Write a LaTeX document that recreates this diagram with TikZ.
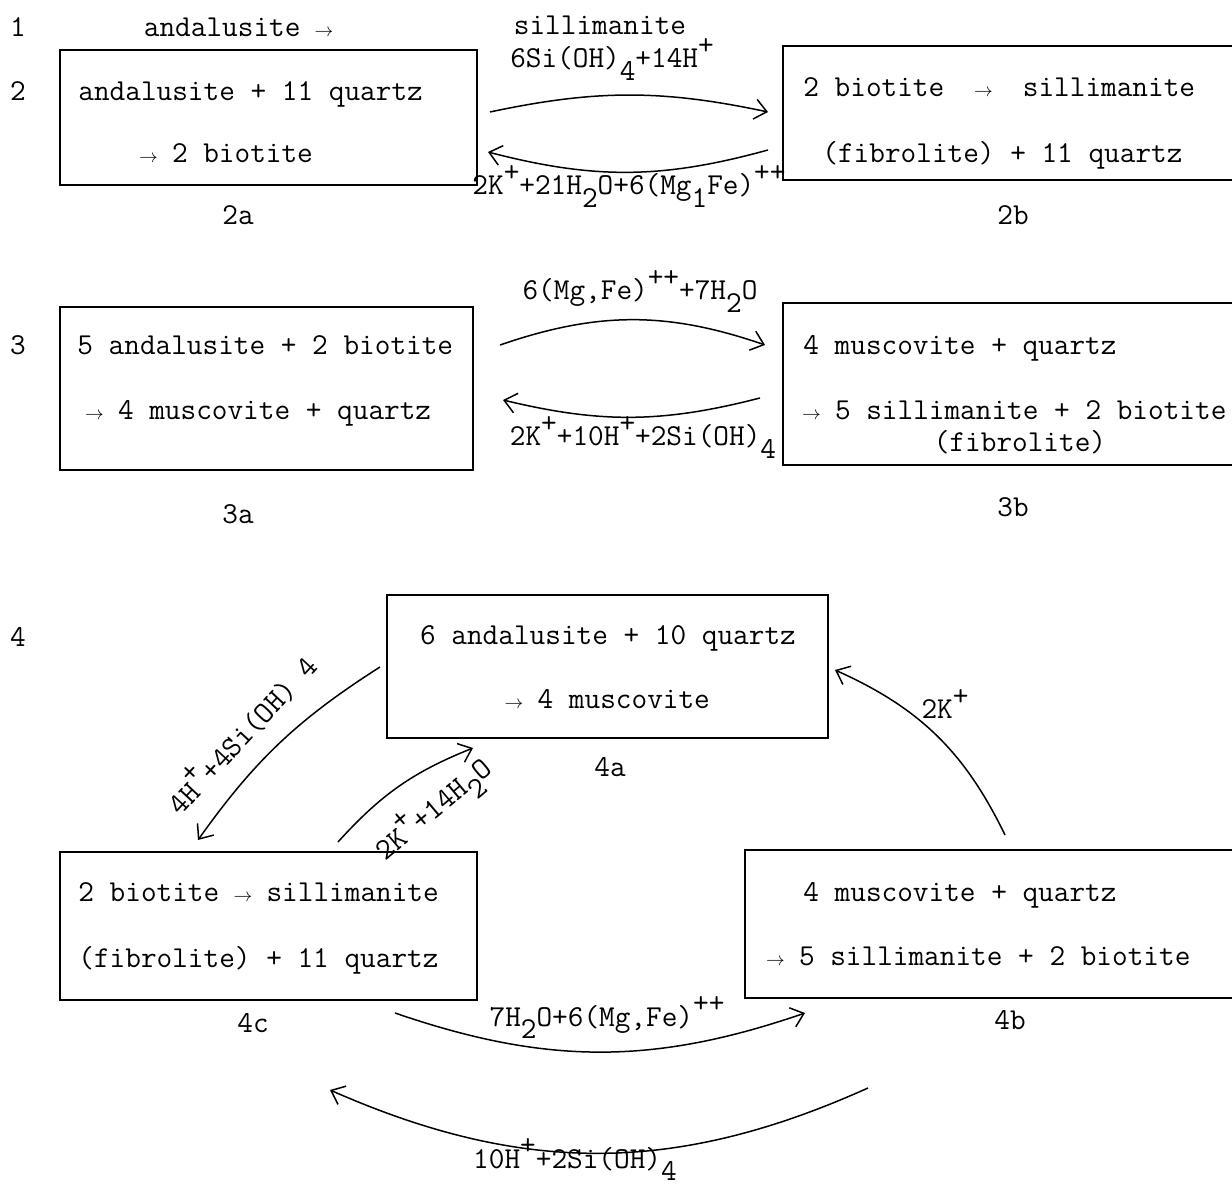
\documentclass[tikz,border=0pt]{standalone}
\usepackage{graphicx}
\usepackage{tikz}
\usetikzlibrary{fit,arrows.meta}
\tikzstyle{diagram} = [x = .5pt, y = -.5pt]
\tikzstyle{boxStyle} = [draw=black, line width=1pt, inner sep=0pt]
\tikzstyle{typeText} = [font=\fontsize{15.2}{18}\selectfont\ttfamily, inner sep=0pt]
\tikzstyle{lineText} = [typeText, anchor=base west]
\tikzstyle{centerText} = [typeText, anchor=base]
\tikzstyle{fluxArrow} = [line width=.75pt, -{Straight Barb[length=6pt,width=10pt]}]
\newcommand{\yields}{\makebox[.525em]{\scalebox{.65}{$\rightarrow$}}}
\newcommand{\hiChar}[1]{\raisebox{.45em}{#1}}
\newcommand{\loChar}[1]{\raisebox{-.4em}{#1}}
\newcommand{\mineralBox}[5]{\node [boxStyle, fit={(#2,#3) (#4,#5)}] (#1) {};}
\newcommand{\boxLine}[4]{\node [lineText] (#1) at (#2,#3) {#4};}
\newcommand{\midText}[4]{\node [centerText] (#1) at (#2,#3) {#4};}

\begin{document}
\begin{tikzpicture}[diagram]
  \path [use as bounding box, clip] (0,0) rectangle (1232,1186);

  % row numbers
  \midText{rowOne}{18}{37}{1}
  \midText{rowTwo}{18}{101}{2}
  \midText{rowThree}{18}{355}{3}
  \midText{rowFour}{18}{647}{4}
  \midText{headA}{238}{37}{andalusite \yields}
  \midText{headB}{600}{35}{sillimanite}

  % row 2
  \mineralBox{box2a}{60}{50}{477}{185}
  \boxLine{t2aOne}{78}{101}{andalusite + 11 quartz}
  \boxLine{t2aTwo}{140}{163}{\yields{} 2 biotite}
  \mineralBox{box2b}{783}{46}{1250}{180}
  \boxLine{t2bOne}{803}{97}{2 biotite\ \ \yields\ \ sillimanite}
  \boxLine{t2bTwo}{822}{163}{(fibrolite) + 11 quartz}
  \midText{case2a}{238}{225}{2a}
  \midText{case2b}{1013}{225}{2b}
  \coordinate (fwd2s) at (490,112);
  \coordinate (fwd2e) at (768,112);
  \coordinate (back2s) at (768,150);
  \coordinate (back2e) at (488,152);
  \draw [fluxArrow] (fwd2s) to [bend left=12] (fwd2e);
  \draw [fluxArrow] (back2s) to [bend left=15] (back2e);
  \midText{flux2fwd}{612}{68}{6Si(OH)\loChar{4}+14H\hiChar{+}}
  \midText{flux2back}{629}{195}{2K\hiChar{+}+21H\loChar{2}O+6(Mg\loChar{1}Fe)\hiChar{++}}

  % row 3
  \mineralBox{box3a}{60}{307}{473}{470}
  \boxLine{t3aOne}{77}{355}{5 andalusite + 2 biotite}
  \boxLine{t3aTwo}{86}{420}{\yields{} 4 muscovite + quartz}
  \mineralBox{box3b}{783}{303}{1250}{465}
  \boxLine{t3bOne}{803}{355}{4 muscovite + quartz}
  \boxLine{t3bTwo}{803}{420}{\yields{} 5 sillimanite + 2 biotite}
  \midText{t3bThree}{1020}{452}{(fibrolite)}
  \midText{case3a}{238}{524}{3a}
  \midText{case3b}{1013}{517}{3b}
  \coordinate (fwd3s) at (500,345);
  \coordinate (fwd3e) at (765,345);
  \coordinate (back3s) at (760,398);
  \coordinate (back3e) at (503,400);
  \draw [fluxArrow] (fwd3s) to [bend left=19] (fwd3e);
  \draw [fluxArrow] (back3s) to [bend left=14] (back3e);
  \midText{flux3fwd}{640}{300}{6(Mg,Fe)\hiChar{++}+7H\loChar{2}O}
  \midText{flux3back}{643}{446}{2K\hiChar{+}+10H\hiChar{+}+2Si(OH)\loChar{4}}

  % row 4
  \mineralBox{box4a}{387}{595}{828}{738}
  \midText{t4aOne}{608}{645}{6 andalusite + 10 quartz}
  \midText{t4aTwo}{608}{709}{\yields{} 4 muscovite}
  \mineralBox{box4c}{60}{852}{477}{1000}
  \boxLine{t4cOne}{78}{902}{2 biotite \yields{} sillimanite}
  \boxLine{t4cTwo}{78}{967}{(fibrolite) + 11 quartz}
  \mineralBox{box4b}{745}{850}{1250}{998}
  \boxLine{t4bOne}{803}{902}{4 muscovite + quartz}
  \boxLine{t4bTwo}{767}{965}{\yields{} 5 sillimanite + 2 biotite}
  \midText{case4a}{610}{777}{4a}
  \midText{case4c}{253}{1032}{4c}
  \midText{case4b}{1010}{1029}{4b}
  \coordinate (ac4s) at (380,667);
  \coordinate (ac4e) at (198,840);
  \coordinate (ca4s) at (338,842);
  \coordinate (ca4e) at (473,748);
  \coordinate (ba4s) at (1005,835);
  \coordinate (ba4e) at (835,670);
  \coordinate (cb4s) at (395,1013);
  \coordinate (cb4e) at (805,1013);
  \coordinate (bc4s) at (868,1088);
  \coordinate (bc4e) at (330,1090);
  \draw [fluxArrow] (ac4s) to [bend right=11] (ac4e);
  \draw [fluxArrow] (ca4s) to [bend left=13] (ca4e);
  \draw [fluxArrow] (ba4s) to [bend right=20] (ba4e);
  \draw [fluxArrow] (cb4s) to [bend right=19] (cb4e);
  \draw [fluxArrow] (bc4s) to [bend left=24] (bc4e);
  \node [typeText, rotate=47] (flux4ac) at (240,733) {4H\hiChar{+}+4Si(OH) 4};
  \node [typeText, rotate=40] (flux4ca) at (434,810) {2K\hiChar{+}+14H\loChar{2}O};
  \midText{flux4ba}{945}{719}{2K\hiChar{+}}
  \midText{flux4cb}{607}{1026}{7H\loChar{2}O+6(Mg,Fe)\hiChar{++}}
  \midText{flux4bc}{575}{1168}{10H\hiChar{+}+2Si(OH)\loChar{4}}
\end{tikzpicture}
\end{document}
